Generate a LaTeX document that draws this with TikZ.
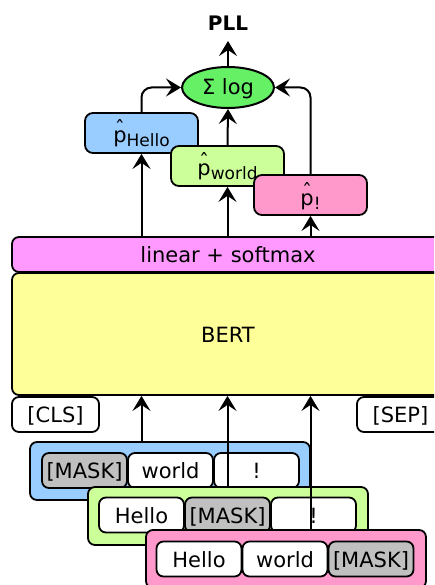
\documentclass[tikz,border=0pt]{standalone}
\usepackage{fontspec}
\setmainfont{DejaVu Sans}
\usetikzlibrary{shapes.geometric,arrows.meta}
\tikzset{>={Stealth[length=15pt,width=18pt,inset=6pt]}}

\definecolor{hellocol}{HTML}{99CCFF}
\definecolor{worldcol}{HTML}{CCFF99}
\definecolor{exclcol}{HTML}{FF99CC}
\definecolor{sumcol}{HTML}{66F066}
\definecolor{lincol}{HTML}{FF99FF}
\definecolor{bertcol}{HTML}{FFFF99}
\definecolor{maskcol}{HTML}{C0C0C0}

% p with a hat and a lowered word under it
\newcommand{\phat}[1]{{\setbox0\hbox{p}\rlap{\hbox to \wd0{\hss\raisebox{7pt}{\fontsize{20}{20}\selectfont ˆ}\hss}}p\raisebox{-4pt}{\fontsize{17}{17}\selectfont #1}}}

\tikzset{
  box/.style={draw, line width=1.8pt, rounded corners=7pt, inner sep=0pt, text height=16pt, text depth=0pt},
  cell/.style={box, fill=white, minimum width=85pt, minimum height=35pt},
  row/.style={box, minimum width=280pt, minimum height=58pt},
  prob/.style={box, rounded corners=8pt, minimum width=113pt, minimum height=40pt, text height=20pt},
}

\begin{document}
\begin{tikzpicture}[x=1pt,y=-1pt,line width=2pt,font=\fontsize{21}{25}\selectfont]
  \useasboundingbox (0,0) rectangle (434,585);
  \clip (0,0) rectangle (434,585);

  % Output and sum of logs
  \node[anchor=base, font=\fontsize{20}{24}\selectfont\bfseries, inner sep=0pt] (pll) at (228,31) {PLL};
  \node[ellipse, draw, fill=sumcol, minimum width=92pt, minimum height=41pt, inner sep=0pt, text height=14pt, text depth=0pt] (sumlog) at (228,87.5) {Σ log};

  % Token probabilities
  \node[prob, fill=hellocol] (pHello) at (141.5,133) {\phat{Hello}};
  \node[prob, fill=worldcol] (pWorld) at (227.5,166) {\phat{world}};
  \node[prob, fill=exclcol] (pExcl) at (310.5,195) {\phat{!}};

  % Model
  \node[box, fill=lincol, minimum width=432pt, minimum height=35pt] (lin) at (228,254.5) {linear + softmax};
  \node[box, fill=bertcol, minimum width=432pt, minimum height=122pt] (bert) at (228,334) {BERT};
  \node[cell, minimum width=87pt] (cls) at (55.5,414.5) {[CLS]};
  \node[cell, minimum width=87pt] (sep) at (400.5,414.5) {[SEP]};

  % Masked copies of the sentence
  \node[row, fill=hellocol] (rowHello) at (170,471) {};
  \node[cell, fill=maskcol] (a1) at (84.5,470.5) {[MASK]};
  \node[cell] (a2) at (170.5,470.5) {world};
  \node[cell] (a3) at (256.5,470.5) {!};

  \node[row, fill=worldcol] (rowWorld) at (228,516) {};
  \node[cell] (b1) at (141.5,515) {Hello};
  \node[cell, fill=maskcol] (b2) at (227.5,515) {[MASK]};
  \node[cell] (b3) at (313.5,515) {!};

  \node[row, fill=exclcol] (rowExcl) at (286,559) {};
  \node[cell] (c1) at (199,559) {Hello};
  \node[cell] (c2) at (285,559) {world};
  \node[cell, fill=maskcol] (c3) at (371,559) {[MASK]};

  % Arrows
  \draw[->] (sumlog.north) -- ([yshift=-9pt]pll.south);
  \draw[->, rounded corners=10pt] (pHello.north) |- (sumlog.west);
  \draw[->] (pWorld.north) -- (sumlog.south);
  \draw[->, rounded corners=10pt] (pExcl.north) |- (sumlog.east);
  \draw[->] (pHello.south |- lin.north) -- (pHello.south);
  \draw[->] (pWorld.south |- lin.north) -- (pWorld.south);
  \draw[->] (pExcl.south |- lin.north) -- (pExcl.south);
  \draw[->] (rowHello.north -| pHello.south) -- (bert.south -| pHello.south);
  \draw[->] (rowWorld.north -| pWorld.south) -- (bert.south -| pWorld.south);
  \draw[->] (rowExcl.north -| pExcl.south) -- (bert.south -| pExcl.south);
\end{tikzpicture}
\end{document}
